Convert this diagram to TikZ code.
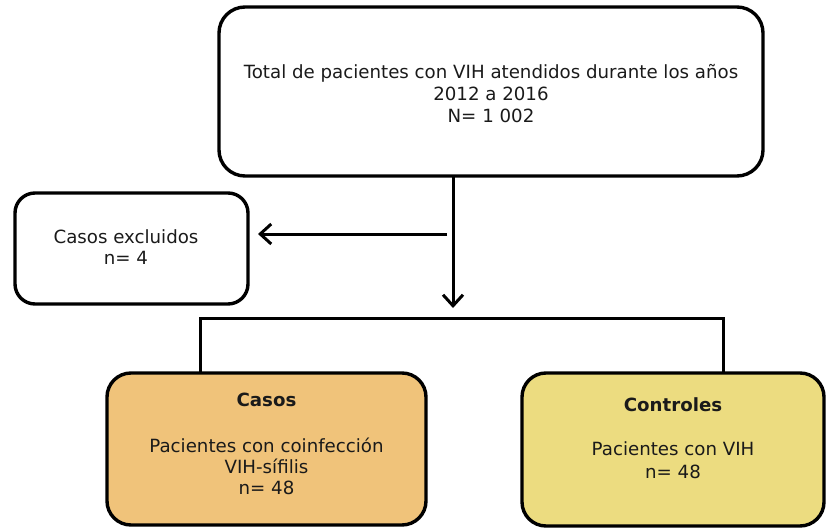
\documentclass[tikz,border=0pt]{standalone}
\usepackage{fontspec}
\setmainfont{DejaVu Sans}
\usetikzlibrary{arrows.meta}
\definecolor{casosfill}{RGB}{240,195,122}
\definecolor{ctrlfill}{RGB}{236,220,128}
\definecolor{txt}{RGB}{26,26,26}
\tikzset{
  box/.style={draw=black, line width=3.4pt, inner sep=0pt, outer sep=0pt},
  lbl/.style={text=txt, align=center, inner sep=0pt, font=\fontsize{18.2}{21}\selectfont},
  ttl/.style={text=txt, inner sep=0pt, font=\fontsize{18.2}{21}\selectfont\bfseries},
  conn/.style={draw=black, line width=3pt},
  arr/.style={conn, -{Straight Barb[length=11pt,width=20pt]}}
}
\begin{document}
\begin{tikzpicture}[x=1pt,y=-1pt]
\useasboundingbox (0,0) rectangle (826,529);
% boxes
\node[box, rounded corners=26pt, minimum width=544pt, minimum height=169pt] (top) at (491,91.5) {};
\node[box, rounded corners=20pt, minimum width=233pt, minimum height=111pt] (excl) at (131.5,248.5) {};
\node[box, fill=casosfill, rounded corners=24pt, minimum width=319pt, minimum height=152pt] (casos) at (266.5,449) {};
\node[box, fill=ctrlfill, rounded corners=24pt, minimum width=302pt, minimum height=153pt] (ctrl) at (673,449.5) {};
% texts
\node[lbl, font=\fontsize{18.2}{22}\selectfont] (toptext) at (491,94) {Total de pacientes con VIH atendidos durante los años\\2012 a 2016\\N= 1 002};
\node[lbl] (excltext) at (126,247.5) {Casos excluidos\\n= 4};
\node[ttl] (casostitle) at (266.5,400) {Casos};
\node[lbl] (casostext) at (266.5,466) {Pacientes con coinfección\\VIH-sífilis\\n= 48};
\node[ttl] (ctrltitle) at (673,405) {Controles};
\node[lbl, font=\fontsize{18.2}{23}\selectfont] (ctrltext) at (673,460) {Pacientes con VIH\\n= 48};
% connectors
\coordinate (stem) at (453,308);
\coordinate (hstart) at (447,234);
\coordinate (bl) at (200,318);
\coordinate (br) at (723,318);
\draw[arr] (top.south -| stem) -- (stem);
\draw[arr] (hstart) -- ([xshift=10pt]hstart -| excl.east);
\draw[conn] (bl |- casos.north) -- (bl) -- (br) -- (br |- ctrl.north);
\end{tikzpicture}
\end{document}
